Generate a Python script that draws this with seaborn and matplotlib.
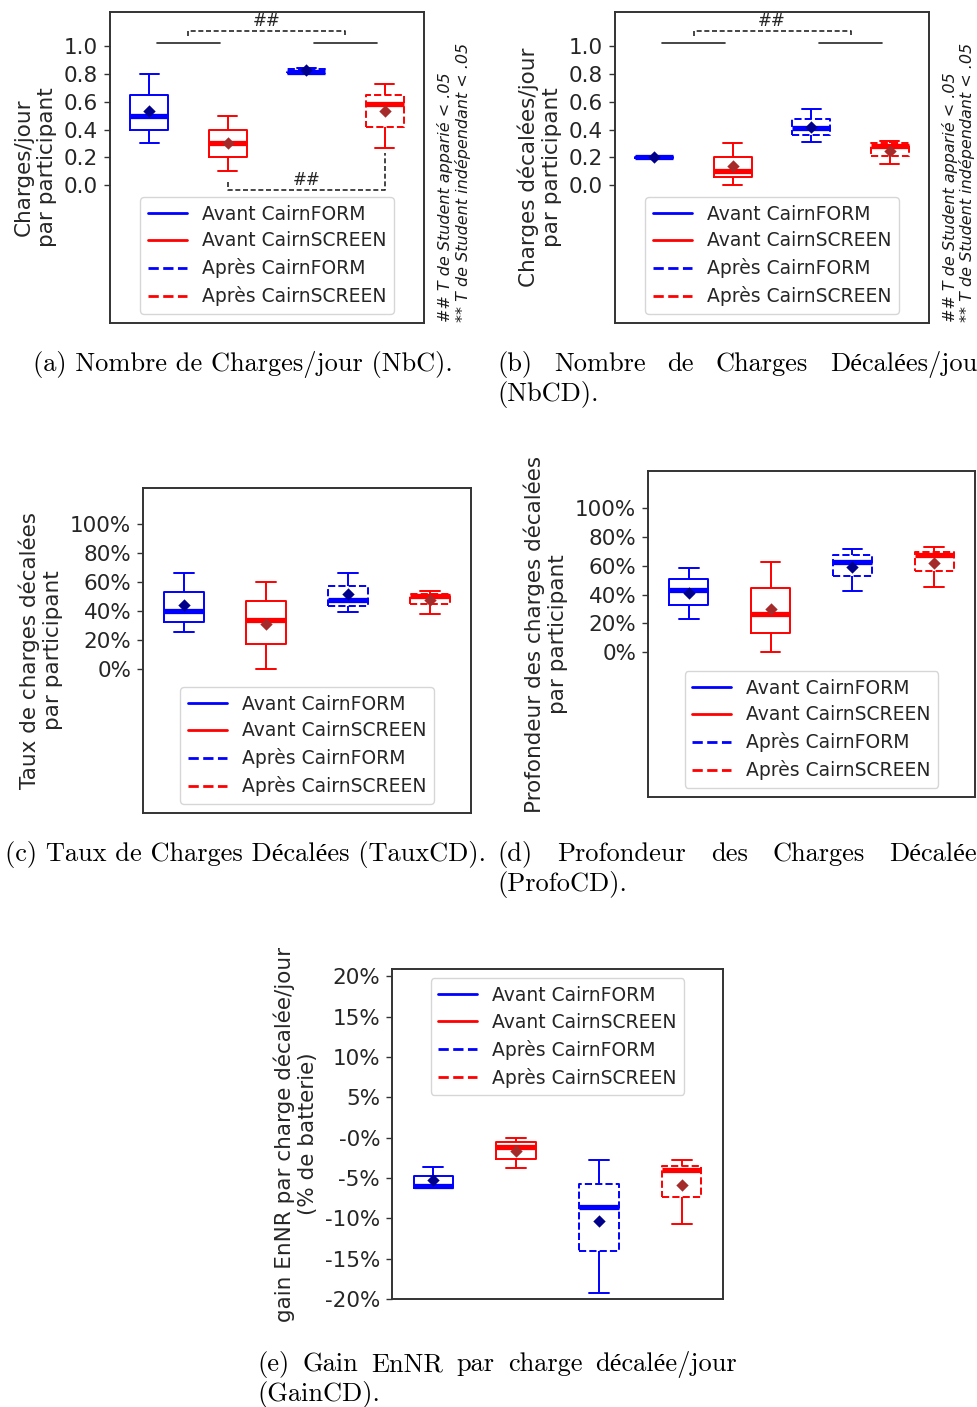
import matplotlib.pyplot as plt
import pandas as pd
import seaborn as sns
from matplotlib.lines import Line2D

# ---------------------------------------------------------------- data
GROUPS = ["Avant CairnFORM", "Avant CairnSCREEN", "Après CairnFORM", "Après CairnSCREEN"]
BOX_COLORS = ["blue", "red", "blue", "red"]
MEAN_COLORS = ["darkblue", "brown", "darkblue", "brown"]
BOX_STYLES = ["-", "-", "--", "--"]

# (low whisker, Q1, median, Q3, high whisker) for each group
NBC_STATS = [(0.30, 0.40, 0.50, 0.65, 0.80), (0.10, 0.20, 0.30, 0.40, 0.50),
             (0.80, 0.805, 0.815, 0.835, 0.845), (0.27, 0.42, 0.585, 0.65, 0.725)]
NBC_MEANS = [0.53, 0.30, 0.83, 0.53]

NBCD_STATS = [(0.195, 0.195, 0.20, 0.205, 0.205), (0.0, 0.06, 0.10, 0.20, 0.30),
              (0.31, 0.36, 0.41, 0.475, 0.545), (0.15, 0.21, 0.28, 0.30, 0.315)]
NBCD_MEANS = [0.20, 0.14, 0.42, 0.245]

TAUXCD_STATS = [(0.25, 0.325, 0.40, 0.53, 0.665), (0.0, 0.17, 0.335, 0.465, 0.60),
                (0.39, 0.435, 0.475, 0.575, 0.665), (0.375, 0.445, 0.505, 0.515, 0.54)]
TAUXCD_MEANS = [0.44, 0.31, 0.515, 0.475]

PROFOCD_STATS = [(0.23, 0.33, 0.43, 0.505, 0.585), (0.0, 0.135, 0.265, 0.445, 0.625),
                 (0.425, 0.525, 0.625, 0.67, 0.715), (0.45, 0.56, 0.67, 0.695, 0.73)]
PROFOCD_MEANS = [0.41, 0.30, 0.59, 0.615]

GAINCD_STATS = [(-0.062, -0.062, -0.060, -0.048, -0.037), (-0.038, -0.026, -0.011, -0.006, -0.001),
                (-0.193, -0.140, -0.0855, -0.0575, -0.0275), (-0.107, -0.074, -0.0405, -0.035, -0.028)]
GAINCD_MEANS = [-0.052, -0.017, -0.103, -0.059]

FRAC_TICKS = [0.0, 0.2, 0.4, 0.6, 0.8, 1.0]
FRAC_LABELS = ["0.0", "0.2", "0.4", "0.6", "0.8", "1.0"]
PCT_LABELS = ["0%", "20%", "40%", "60%", "80%", "100%"]
GAIN_TICKS = [-0.20, -0.15, -0.10, -0.05, 0.0, 0.05, 0.10, 0.15, 0.20]
GAIN_LABELS = ["-20%", "-15%", "-10%", "-5%", "-0%", "5%", "10%", "15%", "20%"]

SIG_MARK = "##"
NOTE_PAIRED = "## T de Student apparié < .05"
NOTE_INDEP = "** T de Student indépendant < .05"

# ---------------------------------------------------------------- layout
FIG_W, FIG_H = 978, 1407
CAPTION_FONT = ["cmr10", "Liberation Serif"]
CAPTION_SIZE = 19


def px_rect(left, top, right, bottom):
    return [left / FIG_W, 1 - bottom / FIG_H, (right - left) / FIG_W, (bottom - top) / FIG_H]


def draw_panel(fig, rect, stats, means, ticks, labels, ylim, ylabel, legend_loc):
    ax = fig.add_axes(px_rect(*rect))
    for name, vals, color, style in zip(GROUPS, stats, BOX_COLORS, BOX_STYLES):
        df = pd.DataFrame({"group": name, "value": list(vals)})
        sns.boxplot(data=df, x="group", y="value", order=GROUPS, ax=ax, width=0.48,
                    fill=False, color=color, saturation=1, whis=(0, 100), linewidth=1.4,
                    showfliers=False, boxprops={"linestyle": style},
                    medianprops={"linewidth": 3.8})
    sns.stripplot(x=GROUPS, y=means, order=GROUPS, hue=GROUPS, hue_order=GROUPS,
                  palette=dict(zip(GROUPS, MEAN_COLORS)), jitter=False, marker="D",
                  size=6.3, linewidth=0, legend=False, ax=ax, zorder=5)
    ax.set_xticks([])
    ax.set_xlabel("")
    ax.set_xlim(-0.5, 3.5)
    ax.set_ylim(*ylim)
    ax.set_yticks(ticks)
    ax.set_yticklabels(labels, fontsize=15.5)
    ax.set_ylabel(ylabel, fontsize=15.5, labelpad=5)
    for sp in ax.spines.values():
        sp.set_color("0.2")
        sp.set_linewidth(1.4)
    ax.tick_params(axis="y", length=4.5, width=1.0, color="0.2", pad=4)
    handles = [Line2D([], [], color=c, ls=s, lw=2) for c, s in zip(BOX_COLORS, BOX_STYLES)]
    ax.legend(handles, GROUPS, loc=legend_loc, fontsize=13.5, handlelength=2.1,
              labelspacing=0.42, frameon=True, fancybox=True, framealpha=0.8,
              edgecolor="0.8")
    return ax


def draw_top_brackets(ax):
    kw = dict(color="0.15", lw=1.2, clip_on=False)
    ax.plot([0.1, 0.9], [1.02, 1.02], **kw)
    ax.plot([2.1, 2.9], [1.02, 1.02], **kw)
    ax.plot([0.5, 0.5, 2.5, 2.5], [1.07, 1.11, 1.11, 1.07], ls=(0, (3, 1.6)), **kw)
    ax.text(1.5, 1.18, SIG_MARK, ha="center", va="center", fontsize=12, color="0.15")


def draw_notes(fig, x1, x2, bottom):
    for x, txt in ((x1, NOTE_PAIRED), (x2, NOTE_INDEP)):
        fig.text(x / FIG_W, 1 - bottom / FIG_H, txt, rotation=90, ha="center", va="bottom",
                 fontsize=11.5, style="italic", color="0.1")


def caption(fig, words, left, y, right=None):
    """Place caption words on a baseline; stretch the gaps when a right edge is given."""
    texts = [fig.text(0, 1 - y / FIG_H, w, ha="left", va="baseline", fontsize=CAPTION_SIZE,
                      family=CAPTION_FONT, color="black") for w in words]
    renderer = fig.canvas.get_renderer()
    widths = [t.get_window_extent(renderer).width for t in texts]
    gap = 0 if right is None or len(words) < 2 else (right - left - sum(widths)) / (len(words) - 1)
    x = left
    for t, w in zip(texts, widths):
        t.set_x(x / FIG_W)
        x += w + gap


def main():
    sns.set_theme(style="ticks")
    plt.rcParams["font.family"] = ["DejaVu Sans"]
    fig = plt.figure(figsize=(FIG_W / 100, FIG_H / 100), dpi=100)

    ax_a = draw_panel(fig, (110, 12, 424, 323), NBC_STATS, NBC_MEANS, FRAC_TICKS, FRAC_LABELS,
                      (-0.99, 1.245), "Charges/jour\npar participant", "lower center")
    draw_top_brackets(ax_a)
    lo_scr = NBC_STATS[3][0]
    ax_a.plot([1, 1, 3, 3], [0.02, -0.035, -0.035, lo_scr - 0.04], ls=(0, (3, 1.6)),
              color="0.15", lw=1.2)
    ax_a.text(2, 0.035, SIG_MARK, ha="center", va="center", fontsize=12, color="0.15")
    draw_notes(fig, 445, 463, 322)

    ax_b = draw_panel(fig, (615, 12, 929, 323), NBCD_STATS, NBCD_MEANS, FRAC_TICKS, FRAC_LABELS,
                      (-0.99, 1.245), "Charges décalées/jour\npar participant", "lower center")
    draw_top_brackets(ax_b)
    draw_notes(fig, 950, 967, 322)

    draw_panel(fig, (143, 488, 471, 813), TAUXCD_STATS, TAUXCD_MEANS, FRAC_TICKS, PCT_LABELS,
               (-1.0, 1.25), "Taux de charges décalées\npar participant", "lower center")
    draw_panel(fig, (648, 471, 975, 797), PROFOCD_STATS, PROFOCD_MEANS, FRAC_TICKS, PCT_LABELS,
               (-1.0, 1.254), "Profondeur des charges décalées\npar participant", "lower center")
    draw_panel(fig, (392, 969, 723, 1299), GAINCD_STATS, GAINCD_MEANS, GAIN_TICKS, GAIN_LABELS,
               (-0.20, 0.209), "gain EnNR par charge décalée/jour\n(% de batterie)", "upper center")

    # the (b) and (d) captions run past the right edge of the reference image
    caption(fig, ["(a) Nombre de Charges/jour (NbC)."], 33, 371)
    caption(fig, ["(b)", "Nombre", "de", "Charges", "Décalées/jou"], 497, 371, right=977)
    caption(fig, ["(NbCD)."], 497, 401)
    caption(fig, ["(c) Taux de Charges Décalées (TauxCD)."], 5, 861)
    caption(fig, ["(d)", "Profondeur", "des", "Charges", "Décalée"], 497, 861, right=977)
    caption(fig, ["(ProfoCD)."], 497, 891)
    caption(fig, ["(e)", "Gain", "EnNR", "par", "charge", "décalée/jour"], 257, 1371, right=737)
    caption(fig, ["(GainCD)."], 257, 1401)

    fig.savefig("out.png", dpi=100, facecolor="white")


if __name__ == "__main__":
    main()
